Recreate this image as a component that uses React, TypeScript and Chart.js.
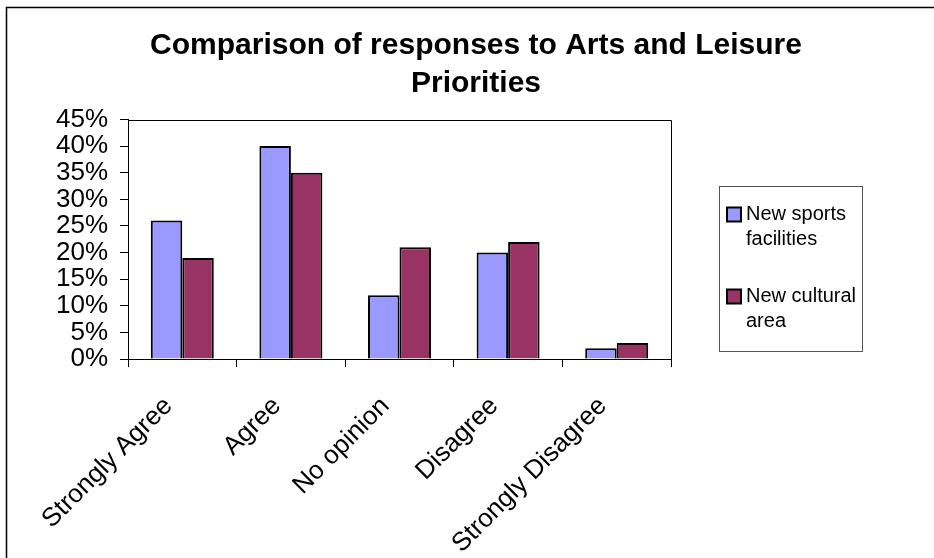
import React, { useEffect, useRef } from "react";
import { Chart, registerables } from "chart.js";

Chart.register(...registerables);

// Survey answers, in axis order
const categories = ["Strongly Agree", "Agree", "No opinion", "Disagree", "Strongly Disagree"];

// Share of respondents (%) per answer
const sportsValues = [26, 40, 12, 20, 2];
const culturalValues = [19, 35, 21, 22, 3];

// Series names, split into the lines shown in the key
const sportsName = ["New sports", "facilities"];
const culturalName = ["New cultural", "area"];

const titleLines = ["Comparison of responses to Arts and Leisure", "Priorities"];

// Y axis: 0% .. 45% in 5% steps
const yMin = 0;
const yMax = 45;
const yStep = 5;

const FONT = "'Liberation Sans', Arial, Helvetica, sans-serif";
const SPORTS_COLOR = "#9999FF";
const CULTURAL_COLOR = "#993366";

// Outer frame of the chart sheet plus the box round the plot area
const framePlugin = {
  id: "frames",
  afterDraw(chart: Chart) {
    const { ctx, chartArea } = chart;
    ctx.save();
    ctx.strokeStyle = "#000";
    ctx.lineWidth = 1.5;
    ctx.strokeRect(6.5, 7.5, 2000, 2000);
    ctx.lineWidth = 1;
    const l = Math.round(chartArea.left) + 0.5;
    const t = Math.round(chartArea.top) + 0.5;
    const r = Math.round(chartArea.right) + 0.5;
    const b = Math.round(chartArea.bottom) + 0.5;
    ctx.beginPath();
    ctx.moveTo(l, t);
    ctx.lineTo(r, t);
    ctx.lineTo(r, b);
    ctx.stroke();
    ctx.restore();
  },
};

// Boxed key on the right, with two-line series names
const keyPlugin = {
  id: "boxedKey",
  afterDraw(chart: Chart) {
    const { ctx } = chart;
    const boxX = 719.5;
    const boxY = 186.5;
    const boxW = 143;
    const boxH = 165;
    ctx.save();
    ctx.strokeStyle = "#555";
    ctx.lineWidth = 1;
    ctx.strokeRect(boxX, boxY, boxW, boxH);

    const names = [sportsName, culturalName];
    chart.data.datasets.forEach((ds: any, i: number) => {
      const top = 207.5 + i * 82;
      ctx.fillStyle = ds.backgroundColor;
      ctx.fillRect(727, top, 14, 14);
      ctx.strokeStyle = "#000";
      ctx.lineWidth = 2;
      ctx.strokeRect(727, top, 14, 14);

      ctx.fillStyle = "#000";
      ctx.font = `20px ${FONT}`;
      ctx.textAlign = "left";
      ctx.textBaseline = "middle";
      names[i].forEach((line, j) => {
        ctx.fillText(line, 746, 214.5 + i * 82 + j * 25);
      });
    });
    ctx.restore();
  },
};

export default function App() {
  const canvasRef = useRef<HTMLCanvasElement | null>(null);

  useEffect(() => {
    const canvas = canvasRef.current;
    if (!canvas) return;

    const chart = new Chart(canvas, {
      type: "bar",
      data: {
        labels: categories,
        datasets: [
          {
            label: sportsName.join(" "),
            data: sportsValues,
            backgroundColor: SPORTS_COLOR,
            borderColor: "#000",
            borderWidth: 2,
            categoryPercentage: 0.58,
            barPercentage: 1.0,
          },
          {
            label: culturalName.join(" "),
            data: culturalValues,
            backgroundColor: CULTURAL_COLOR,
            borderColor: "#000",
            borderWidth: 2,
            categoryPercentage: 0.58,
            barPercentage: 1.0,
          },
        ],
      },
      options: {
        responsive: false,
        animation: false,
        layout: { padding: { left: 18, right: 0, top: 0, bottom: 0 } },
        plugins: {
          legend: { display: false },
          tooltip: { enabled: false },
          title: {
            display: true,
            text: titleLines,
            color: "#000",
            font: { family: FONT, size: 30, weight: "bold", lineHeight: 1.25 },
            padding: { top: 27, bottom: 17.5 },
          },
        },
        scales: {
          x: {
            type: "category",
            offset: true,
            grid: {
              display: true,
              offset: true,
              drawOnChartArea: false,
              drawTicks: true,
              tickLength: 8,
              color: "#000",
            },
            border: { display: true, color: "#000", width: 1 },
            ticks: {
              color: "#000",
              font: { family: FONT, size: 26 },
              minRotation: 45,
              maxRotation: 45,
              autoSkip: false,
              padding: 24,
              labelOffset: -14,
            },
            afterFit: (scale: any) => {
              scale.height = 199;
            },
          },
          y: {
            type: "linear",
            position: "left",
            min: yMin,
            max: yMax,
            grid: {
              display: true,
              drawOnChartArea: false,
              drawTicks: true,
              tickLength: 8,
              color: "#000",
            },
            border: { display: true, color: "#000", width: 1 },
            ticks: {
              stepSize: yStep,
              autoSkip: false,
              color: "#000",
              font: { family: FONT, size: 26, lineHeight: 1 },
              padding: 12,
              callback: (v: any) => `${v}%`,
            },
            afterFit: (scale: any) => {
              scale.width = 110;
            },
          },
          keySpace: {
            type: "linear",
            position: "right",
            display: true,
            grid: { display: false },
            border: { display: false },
            ticks: { display: false },
            afterFit: (scale: any) => {
              scale.width = 263;
            },
          },
        },
      },
      plugins: [framePlugin, keyPlugin],
    });

    return () => {
      chart.destroy();
    };
  }, []);

  return (
    <div style={{ position: "fixed", left: 0, top: 0, width: 934, height: 558, background: "#fff" }}>
      <canvas ref={canvasRef} width={934} height={558} />
    </div>
  );
}
